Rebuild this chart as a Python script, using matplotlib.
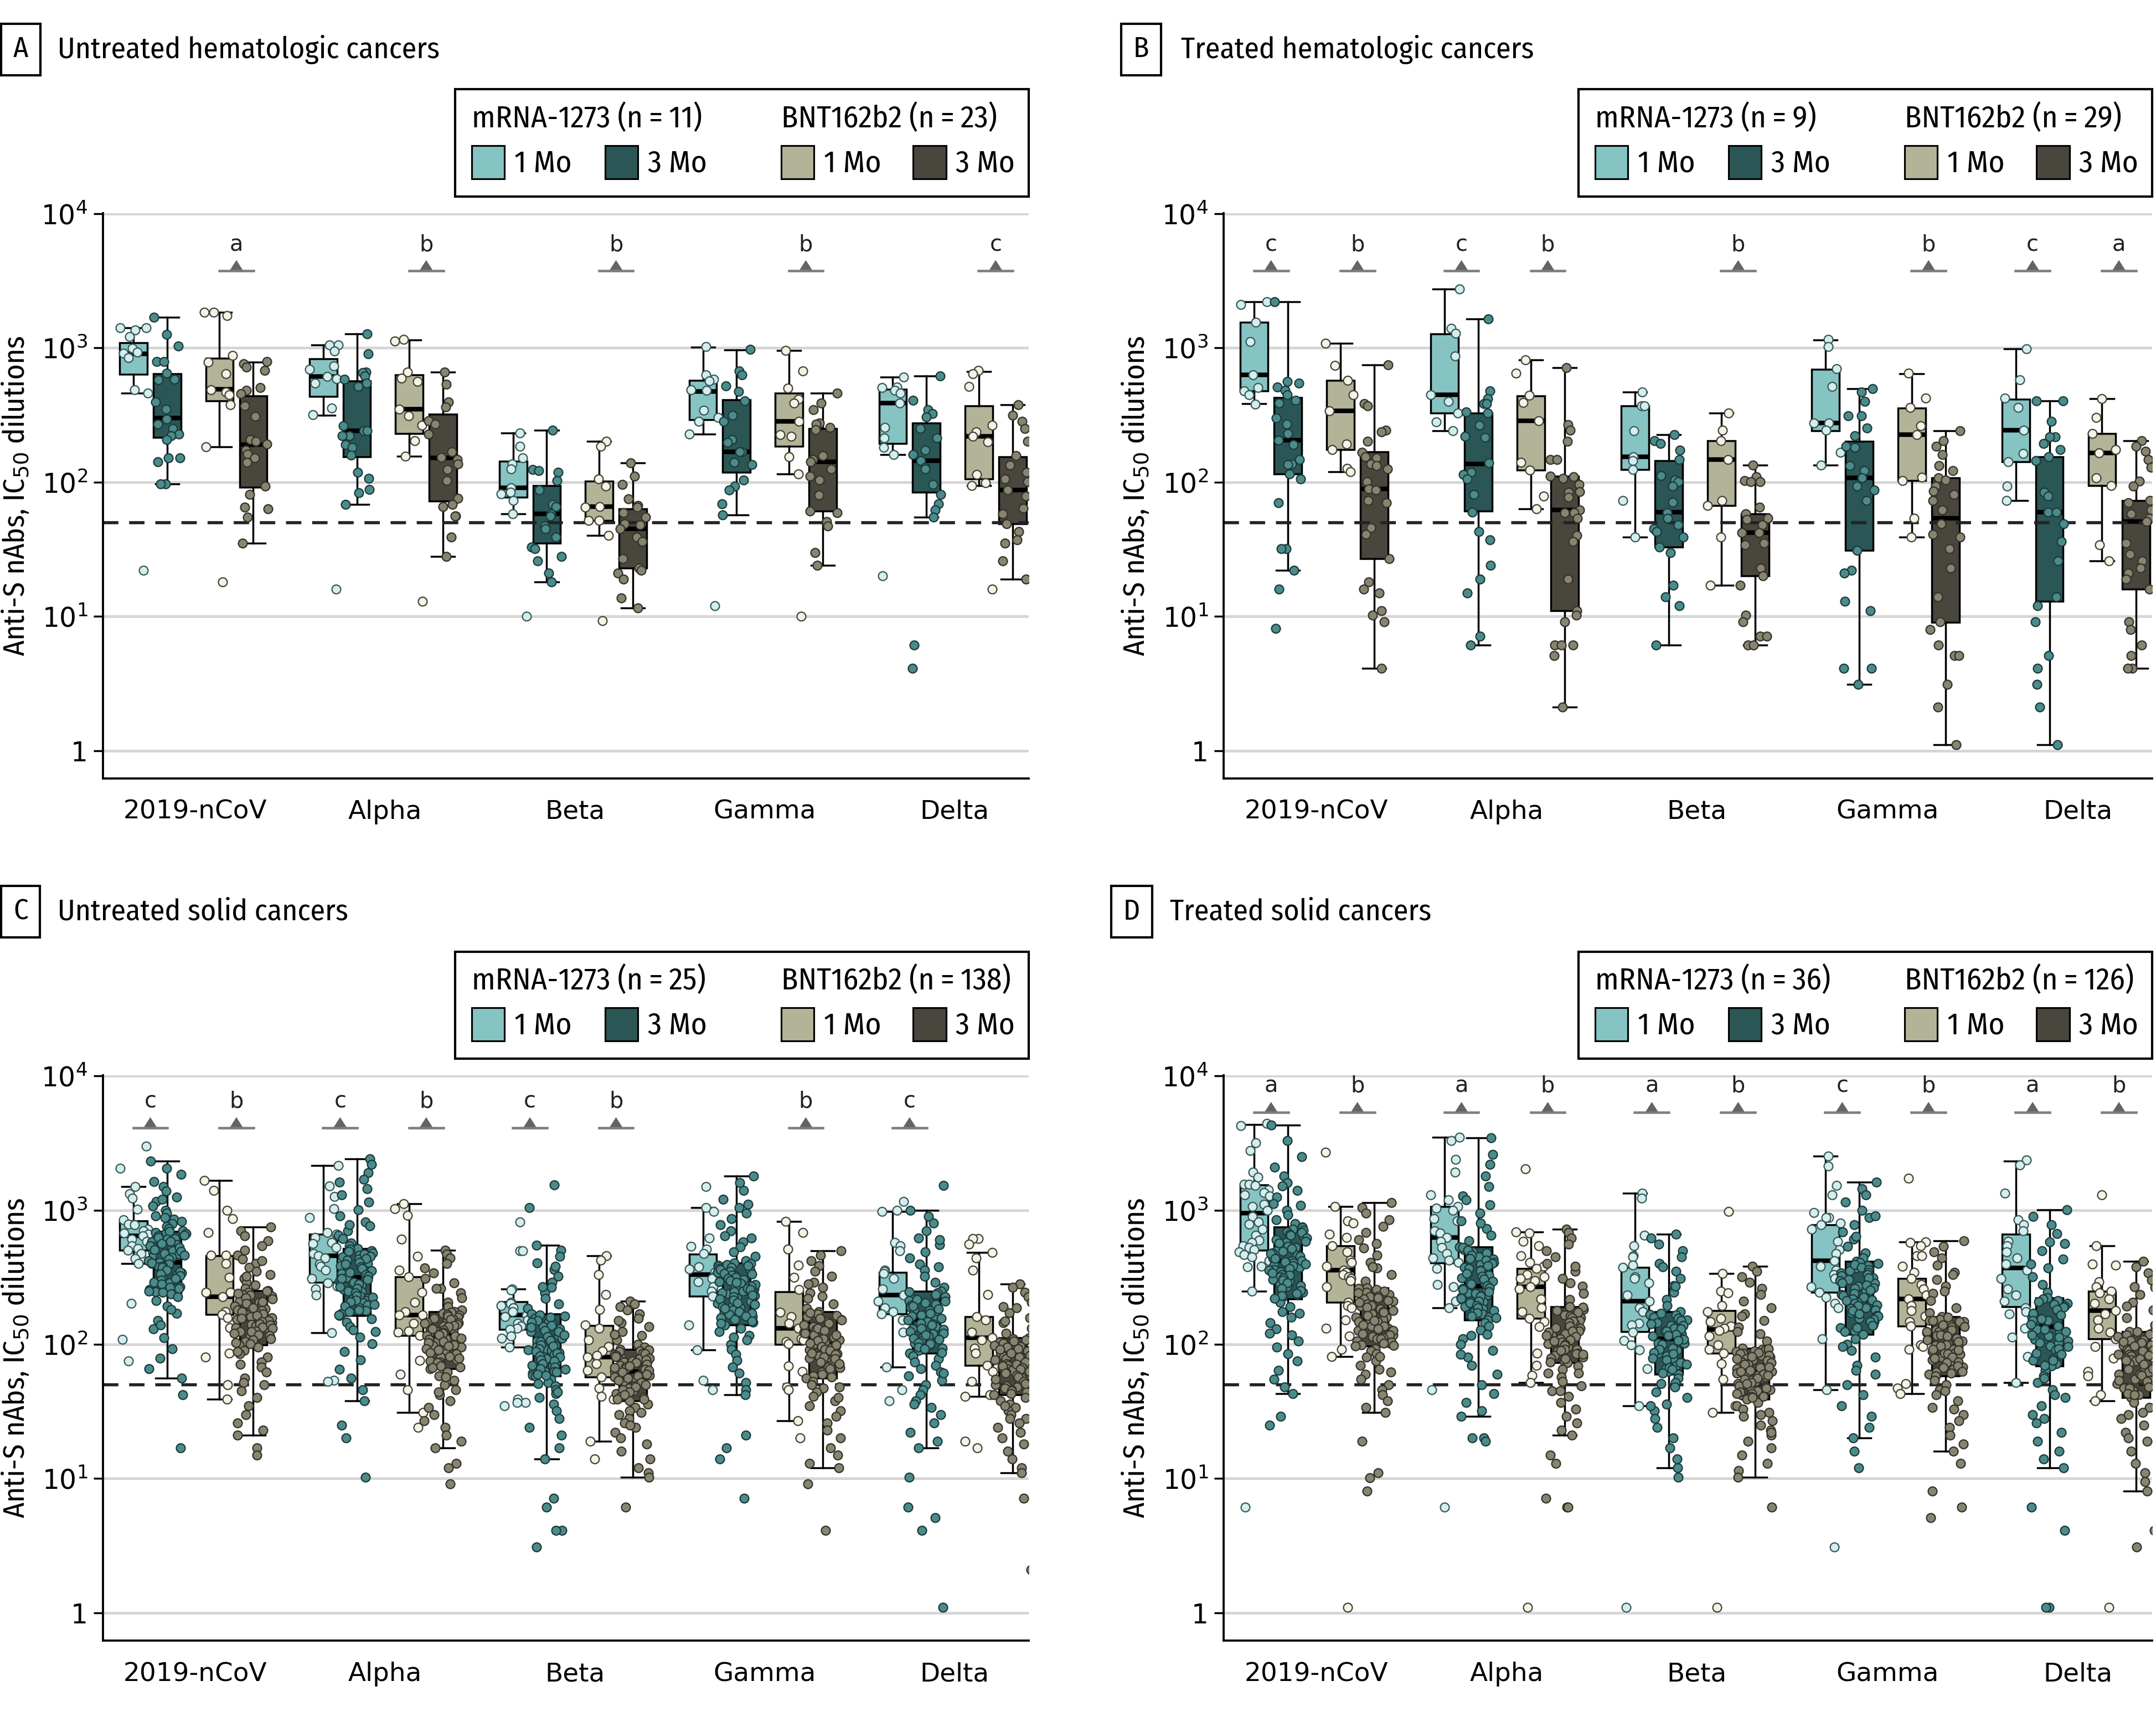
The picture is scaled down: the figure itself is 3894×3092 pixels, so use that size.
import numpy as np
import matplotlib
matplotlib.use("Agg")
import matplotlib.pyplot as plt
from matplotlib import font_manager
from matplotlib.patches import Rectangle, Polygon
from matplotlib.ticker import NullLocator
from matplotlib.transforms import blended_transform_factory

# ---------------------------------------------------------------- data
VARIANTS = ["2019-nCoV", "Alpha", "Beta", "Gamma", "Delta"]
Y_TICKS = [1, 10, 100, 1000, 10000]
Y_TICK_LABELS = ["1", "$10^1$", "$10^2$", "$10^3$", "$10^4$"]
THRESHOLD = 50

# box stats per variant: (whisker low, Q1, median, Q3, whisker high)
# M1 = mRNA-1273 1 Mo, M3 = mRNA-1273 3 Mo, B1 = BNT162b2 1 Mo, B3 = BNT162b2 3 Mo

# A - untreated hematologic
A_N = (11, 23)
A_M1_BOX = [(459, 637, 908, 1094, 1415), (315, 437, 615, 832, 1050), (58, 77, 91, 143, 232),
            (229, 292, 475, 575, 1014), (160, 195, 387, 491, 607)]
A_M3_BOX = [(97, 215, 300, 645, 1690), (68, 154, 242, 568, 1279), (18, 35, 58, 94, 243),
            (57, 119, 168, 411, 966), (55, 84, 145, 275, 620)]
A_B1_BOX = [(184, 405, 491, 837, 1850), (156, 230, 351, 628, 1153), (40, 52, 66, 102, 202),
            (115, 185, 283, 459, 960), (94, 106, 219, 369, 668)]
A_B3_BOX = [(35, 92, 191, 441, 788), (28, 72, 152, 321, 659), (11.5, 23, 45, 63, 139),
            (24, 61, 142, 250, 459), (19, 49, 87, 155, 377)]
A_M1_PTS = [
    [1415, 1415, 1362, 1220, 993, 927, 914, 849, 488, 459, 22],
    [1050, 1050, 953, 735, 696, 615, 592, 545, 357, 317, 16],
    [232, 186, 151, 136, 125, 91, 84, 82, 73, 58, 10],
    [1021, 628, 583, 568, 488, 484, 344, 303, 283, 229, 12],
    [607, 512, 505, 484, 463, 390, 256, 213, 182, 161, 20],
]
A_M3_PTS = [
    [1690, 1262, 1035, 793, 793, 650, 583, 580, 395, 349, 296, 271, 250, 229, 221, 208, 152, 152, 142, 97, 97],
    [1279, 902, 664, 655, 620, 583, 548, 519, 264, 242, 242, 221, 221, 190, 181, 159, 119, 107, 88, 83, 68],
    [243, 124, 122, 118, 103, 87, 68, 66, 58, 56, 47, 45, 39, 33, 32, 28, 26, 21, 18],
    [973, 673, 628, 523, 475, 403, 315, 283, 207, 198, 168, 168, 140, 135, 104, 93, 87, 69, 57],
    [620, 408, 347, 324, 307, 250, 213, 173, 160, 144, 129, 126, 96, 81, 69, 62, 55, 6.1, 4.1],
]
A_B1_PTS = [
    [1850, 1837, 1750, 879, 788, 645, 488, 468, 450, 379, 184, 18],
    [1161, 1122, 664, 595, 563, 351, 311, 266, 204, 156, 13],
    [202, 185, 106, 93, 66, 65, 52, 52, 40, 9.3],
    [960, 673, 501, 417, 390, 283, 227, 219, 154, 115, 10],
    [678, 641, 519, 266, 238, 219, 200, 114, 99, 94, 16],
]
A_B3_PTS = [
    [793, 760, 721, 683, 508, 484, 456, 372, 309, 207, 202, 193, 174, 162, 151, 140, 93, 81, 65, 63, 55, 35],
    [659, 537, 395, 364, 286, 271, 229, 169, 153, 148, 137, 124, 103, 76, 68, 66, 56, 56, 39, 28],
    [139, 111, 96, 75, 67, 65, 59, 55, 49, 48, 45, 39, 36, 27, 23, 22, 21, 19, 13.7, 11.5],
    [459, 390, 347, 275, 271, 256, 246, 157, 148, 142, 126, 111, 104, 80, 61, 59, 51, 47, 30, 24],
    [377, 315, 285, 252, 202, 158, 134, 119, 106, 101, 87, 79, 64, 58, 49, 43, 37, 35, 26, 19],
]
A_MARKS = [("", "a"), ("", "b"), ("", "b"), ("", "b"), ("", "c")]

# B - treated hematologic
B_N = (9, 29)
B_M1_BOX = [(385, 478, 628, 1549, 2208), (242, 328, 447, 1279, 2748), (39, 124, 154, 369, 472),
            (134, 242, 277, 696, 1153), (73, 142, 245, 417, 986)]
B_M3_BOX = [(22, 115, 205, 426, 2208), (6.1, 61, 137, 328, 1648), (6.1, 33, 60, 145, 227),
            (3.1, 31, 108, 201, 498), (1.1, 13, 60, 154, 403)]
B_B1_BOX = [(120, 175, 340, 571, 1080), (63, 123, 286, 441, 814), (17, 67, 147, 204, 328),
            (39, 103, 227, 357, 641), (26, 94, 165, 230, 420)]
B_B3_BOX = [(4.1, 27, 89, 169, 745), (2.1, 11, 62, 111, 711), (6.1, 20, 42, 58, 134),
            (1.1, 9.0, 54, 108, 242), (4.1, 16, 51, 73, 204)]
B_M1_PTS = [
    [2208, 2104, 1549, 1114, 632, 505, 478, 450, 382],
    [2748, 1396, 1288, 873, 447, 400, 328, 281, 242],
    [472, 372, 369, 242, 154, 145, 124, 73, 39],
    [1161, 1021, 701, 515, 277, 277, 245, 167, 134],
    [986, 580, 423, 361, 245, 163, 142, 93, 73],
]
B_M3_PTS = [
    [2208, 563, 545, 512, 484, 450, 408, 387, 300, 271, 230, 205, 190, 148, 137, 135, 115, 106, 70, 32, 32, 22, 16, 8.1],
    [1648, 478, 420, 385, 385, 333, 328, 266, 219, 215, 139, 119, 114, 106, 81, 60, 43, 37, 24, 19, 15, 7.1, 6.1],
    [227, 204, 195, 174, 148, 112, 104, 101, 93, 71, 59, 54, 48, 45, 43, 39, 33, 30, 17, 14, 12, 6.1],
    [498, 469, 400, 313, 313, 254, 221, 185, 182, 133, 122, 108, 93, 87, 73, 31, 22, 21, 13, 11, 4.1, 4.1, 3.1],
    [403, 403, 283, 218, 218, 195, 175, 154, 145, 84, 79, 60, 60, 49, 36, 26, 14, 12, 9.1, 5.1, 4.1, 3.1, 2.1, 1.1],
]
B_B1_PTS = [
    [1080, 740, 571, 447, 340, 193, 175, 127, 120],
    [814, 650, 444, 392, 286, 141, 123, 79, 63],
    [328, 245, 204, 148, 73, 67, 39, 17],
    [646, 423, 359, 264, 227, 109, 103, 54, 39],
    [420, 303, 230, 175, 165, 108, 94, 34, 26],
]
B_B3_PTS = [
    [745, 385, 369, 243, 237, 201, 166, 155, 152, 137, 133, 126, 101, 89, 87, 73, 70, 46, 41, 27, 18, 16, 15, 11, 10.2, 9.1, 4.1],
    [711, 267, 245, 202, 147, 147, 111, 110, 107, 96, 85, 84, 77, 62, 59, 59, 54, 40, 36, 19, 11, 10.2, 9.1, 6.1, 6.1, 6.1, 5.1, 2.1],
    [134, 110, 103, 101, 101, 65, 58, 54, 53, 48, 42, 42, 35, 34, 23, 20, 17, 10.2, 9.1, 7.1, 7.1, 6.1, 6.1],
    [242, 204, 185, 160, 133, 122, 108, 104, 93, 86, 81, 73, 62, 49, 41, 39, 32, 23, 14, 9.1, 8.0, 6.1, 5.1, 5.1, 3.1, 2.1, 1.1],
    [204, 185, 170, 148, 129, 102, 93, 73, 70, 62, 58, 54, 51, 35, 29, 26, 23, 21, 19, 16, 9.1, 8.0, 6.1, 5.1, 4.1, 4.1],
]
B_MARKS = [("c", "b"), ("c", "b"), ("", "b"), ("", "b"), ("c", "a")]

# C - untreated solid
C_N = (25, 138)
C_M1_BOX = [(402, 504, 641, 834, 1493), (122, 290, 456, 661, 2145), (95, 129, 166, 208, 259),
            (91, 228, 330, 470, 1041), (68, 168, 233, 344, 981)]
C_M3_BOX = [(56, 241, 410, 698, 2333), (38, 164, 316, 518, 2421), (14, 58, 92, 169, 546),
            (42, 140, 244, 404, 1795), (17, 86, 154, 250, 1000)]
C_B1_BOX = [(39, 167, 227, 456, 1660), (31, 116, 166, 318, 1117), (19, 57, 80, 138, 456),
            (27, 100, 132, 246, 822), (41, 70, 112, 161, 483)]
C_B3_BOX = [(21, 99, 157, 252, 750), (17, 66, 116, 175, 501), (10.2, 38, 63, 92, 209),
            (12, 56, 100, 175, 497), (11, 42, 68, 112, 282)]
C_M1_PTS = [
    [2993, 2055, 1493, 1324, 1225, 1018, 847, 789, 778, 725, 699, 674, 665, 641, 607, 585, 545, 518, 501, 473, 435, 402, 202, 109, 75],
    [2145, 1514, 1259, 1026, 883, 679, 661, 628, 577, 565, 526, 473, 456, 441, 396, 382, 356, 309, 288, 272, 259, 233, 122, 54, 53],
    [817, 497, 497, 259, 254, 205, 202, 195, 188, 175, 166, 161, 152, 144, 137, 132, 129, 115, 111, 95, 39, 37, 37, 35],
    [1493, 1041, 981, 620, 537, 515, 473, 388, 377, 364, 344, 330, 320, 309, 292, 268, 250, 228, 140, 91, 54, 46],
    [1164, 1000, 981, 577, 545, 497, 356, 349, 339, 309, 259, 233, 209, 188, 175, 169, 152, 123, 68, 46, 38],
]
C_M3_PTS = [
    [2333, 2050, 1850, 1640, 1500, 1390, 1250, 1160, 1080, 1000, 955, 905, 860, 825, 790, 760, 732, 700, 684, 660, 642,
     615, 596, 578, 555, 536, 517, 500, 486, 470, 455, 441, 426, 410, 401, 390, 378, 366, 352, 341, 328, 317, 305, 296,
     286, 276, 265, 256, 246, 238, 226, 211, 192, 171, 151, 131, 112, 93, 79, 66, 56, 42, 17,
     693, 668, 652, 627, 607, 583, 566, 543, 527, 506, 494, 473, 463, 446, 431, 419, 404, 396, 383, 373, 357, 348,
     333, 324, 310, 302, 289, 281, 268, 262, 249, 244, 1205, 878, 182, 139],
    [2421, 2200, 1910, 1700, 1450, 1305, 1150, 1010, 905, 820, 762, 702, 650, 612, 570, 541, 518, 500, 481, 462, 447,
     431, 415, 401, 386, 372, 361, 349, 337, 326, 316, 306, 296, 286, 276, 265, 256, 246, 237, 229, 220, 211, 203, 196,
     187, 178, 171, 164, 155, 146, 136, 124, 113, 101, 88, 77, 65, 56, 46, 38, 25, 20, 10.2,
     511, 493, 472, 451, 437, 424, 407, 396, 378, 367, 353, 344, 330, 322, 309, 303, 289, 283, 268, 261, 250, 243,
     231, 225, 214, 208, 198, 192, 181, 176, 166, 1620, 776, 128],
    [1549, 1041, 546, 502, 451, 403, 361, 322, 291, 266, 241, 221, 201, 186, 169, 162, 156, 148, 142, 136, 131, 125,
     121, 115, 111, 106, 102, 98, 95, 92, 90, 87, 84, 81, 78, 76, 73, 71, 69, 67, 65, 63, 61, 59, 58, 55, 52, 49, 46,
     43, 40, 36, 32, 28, 24, 21, 17, 14, 7.1, 6.1, 4.1, 4.1, 3.1,
     165, 159, 150, 146, 138, 134, 127, 124, 117, 114, 107, 105, 99, 97, 93, 91, 88, 86, 82, 80, 77, 75, 72, 70,
     68, 66, 63, 62, 60, 59, 383, 268, 51, 44],
    [1795, 1600, 1405, 1210, 1050, 952, 861, 782, 703, 641, 582, 531, 491, 452, 421, 404, 392, 381, 368, 357, 345,
     334, 324, 313, 303, 294, 284, 275, 267, 258, 250, 244, 237, 230, 223, 216, 209, 202, 195, 188, 181, 174, 167,
     161, 153, 146, 140, 132, 124, 116, 108, 100, 92, 84, 76, 68, 61, 52, 46, 42, 21, 17, 14, 7.1,
     399, 385, 376, 361, 351, 338, 329, 317, 309, 297, 291, 279, 272, 261, 255, 246, 241, 232, 227, 218, 213, 204,
     199, 190, 185, 176, 171, 163, 158, 149, 144, 1108, 617, 113],
    [1524, 1000, 902, 801, 703, 621, 552, 491, 441, 396, 356, 321, 291, 266, 250, 241, 231, 221, 212, 204, 196, 189,
     182, 175, 168, 162, 154, 148, 142, 136, 131, 125, 120, 115, 111, 106, 102, 98, 94, 90, 86, 82, 78, 74, 70, 66,
     62, 58, 54, 50, 46, 42, 38, 34, 30, 26, 22, 19, 17, 10.2, 6.1, 5.1, 4.1, 1.1,
     247, 235, 227, 215, 209, 199, 193, 184, 179, 170, 166, 157, 152, 144, 140, 132, 129, 121, 118, 111, 109, 103,
     101, 95, 93, 87, 604, 377, 61, 36],
]
C_B1_PTS = [
    [1660, 1409, 995, 864, 684, 463, 463, 402, 316, 244, 244, 227, 175, 167, 158, 133, 86, 80, 50, 39],
    [1117, 1026, 914, 607, 453, 357, 318, 244, 205, 175, 166, 166, 144, 126, 123, 116, 76, 60, 46, 31, 24],
    [456, 425, 332, 236, 182, 140, 132, 108, 96, 89, 83, 80, 72, 64, 57, 47, 41, 39, 19, 14],
    [822, 684, 512, 388, 316, 257, 173, 161, 144, 132, 110, 108, 105, 101, 69, 63, 48, 46, 27, 20],
    [615, 615, 557, 483, 441, 357, 236, 161, 152, 123, 112, 108, 94, 86, 70, 63, 53, 42, 41, 19, 17],
]
C_B3_PTS = [
    [750, 702, 641, 590, 542, 501, 462, 431, 402, 376, 351, 331, 311, 291, 276, 262, 252, 244, 236, 228, 221, 212,
     205, 198, 191, 184, 178, 172, 166, 161, 157, 153, 149, 145, 141, 137, 133, 129, 125, 121, 117, 113, 109, 105,
     102, 99, 95, 90, 85, 80, 74, 68, 62, 56, 50, 45, 40, 35, 30, 26, 23, 21, 17, 15,
     249, 239, 233, 223, 217, 207, 202, 193, 188, 180, 176, 168, 164, 158, 156, 150, 148, 142, 140, 134, 132, 126,
     124, 118, 116, 110, 108, 103, 101, 418, 322, 88, 71, 52],
    [501, 471, 441, 402, 371, 341, 311, 286, 262, 241, 222, 205, 191, 181, 175, 170, 165, 160, 155, 150, 145, 141,
     137, 133, 129, 125, 122, 119, 116, 113, 110, 107, 104, 101, 98, 95, 92, 89, 86, 83, 80, 77, 74, 71, 68, 66, 62,
     58, 54, 50, 46, 42, 38, 34, 30, 27, 24, 21, 19, 17, 13, 12, 9.1,
     173, 167, 163, 156, 153, 146, 144, 138, 136, 130, 128, 123, 121, 117, 115, 111, 109, 105, 103, 99, 97, 93, 91,
     87, 85, 81, 79, 75, 73, 69, 67, 262, 57, 44],
    [209, 200, 190, 180, 168, 156, 145, 135, 125, 116, 108, 100, 95, 92, 89, 86, 84, 82, 80, 78, 76, 74, 72, 70, 68,
     66, 65, 63, 61, 59, 57, 55, 53, 51, 49, 47, 45, 43, 41, 39, 38, 36, 34, 32, 30, 28, 26, 24, 22, 20, 18, 16, 14,
     12, 11, 10.2, 6.1,
     91, 88, 85, 83, 81, 79, 77, 75, 73, 71, 69, 67, 65, 64, 62, 60, 58, 56, 54, 52, 50, 48, 46, 44, 42, 40, 39,
     151, 119, 31, 25],
    [497, 461, 421, 386, 351, 321, 291, 266, 241, 221, 201, 186, 175, 168, 161, 154, 147, 141, 135, 129, 123, 118,
     113, 108, 104, 100, 97, 94, 91, 88, 85, 82, 79, 76, 73, 70, 67, 64, 61, 58, 56, 53, 50, 47, 44, 41, 38, 35, 32,
     29, 26, 23, 20, 17, 15, 13, 12, 9.1, 4.1,
     172, 164, 157, 152, 144, 139, 132, 127, 121, 117, 110, 107, 102, 99, 96, 92, 90, 86, 84, 80, 78, 74, 72, 68,
     66, 62, 60, 57, 281, 229, 48, 40],
    [282, 265, 245, 226, 206, 188, 172, 158, 145, 132, 121, 112, 108, 104, 100, 96, 93, 90, 87, 84, 81, 78, 75, 72,
     70, 68, 66, 64, 62, 60, 58, 56, 54, 52, 50, 48, 46, 44, 42, 40, 38, 36, 34, 32, 30, 28, 26, 24, 22, 20, 18, 16,
     14, 12, 11, 7.1, 2.1,
     110, 106, 102, 98, 95, 92, 89, 86, 83, 80, 77, 74, 71, 69, 67, 65, 63, 61, 59, 57, 55, 53, 51, 49, 47, 45, 43,
     191, 149, 35, 28],
]
C_MARKS = [("c", "b"), ("c", "b"), ("c", "b"), ("", "b"), ("c", "")]

# D - treated solid
D_N = (36, 126)
D_M1_BOX = [(248, 501, 949, 1549, 4355), (187, 404, 624, 1070, 3501), (35, 125, 209, 374, 1334),
            (46, 244, 419, 778, 2523), (52, 191, 372, 661, 2333)]
D_M3_BOX = [(43, 217, 419, 750, 4325), (29, 152, 272, 533, 3451), (12, 60, 110, 175, 665),
            (20, 119, 214, 416, 1615), (12, 69, 136, 223, 1011)]
D_B1_BOX = [(81, 206, 356, 545, 1062), (52, 157, 268, 369, 689), (31, 86, 129, 179, 337),
            (43, 137, 217, 309, 581), (38, 110, 178, 248, 545)]
D_B3_BOX = [(31, 97, 152, 264, 1140), (21, 73, 113, 191, 725), (10.2, 39, 63, 94, 382),
            (16, 58, 96, 161, 593), (8.1, 40, 75, 125, 416)]
D_M1_PTS = [
    [4416, 4265, 3167, 2788, 1928, 1758, 1560, 1560, 1535, 1421, 1353, 1296, 1276, 1109, 1070, 995, 895, 817, 789,
     725, 652, 598, 577, 545, 526, 508, 490, 466, 447, 419, 382, 379, 248, 6.1],
    [3501, 3311, 2388, 1928, 1296, 1189, 1070, 1033, 995, 864, 834, 699, 674, 624, 585, 526, 473, 441, 425, 410, 369,
     278, 268, 209, 187, 46, 6.1],
    [1334, 1225, 652, 545, 456, 447, 388, 374, 320, 309, 288, 233, 209, 188, 175, 144, 140, 123, 107, 99, 91, 66, 35, 1.1],
    [2523, 2128, 1535, 1305, 961, 883, 883, 805, 778, 725, 585, 508, 473, 419, 382, 356, 332, 309, 268, 244, 224, 202,
     188, 110, 46, 3.1],
    [2366, 2173, 1334, 847, 778, 699, 585, 545, 490, 441, 396, 356, 309, 259, 233, 209, 188, 175, 169, 132, 113, 81, 52],
]
D_M3_PTS = [
    [4325, 3300, 2500, 2100, 1800, 1600, 1400, 1250, 1120, 1000, 920, 850, 790, 750, 720, 690, 660, 630, 600, 575,
     550, 525, 500, 480, 460, 440, 419, 405, 390, 375, 360, 346, 332, 318, 305, 292, 280, 268, 256, 245, 235, 226, 217,
     205, 190, 175, 160, 145, 130, 118, 106, 95, 85, 75, 64, 55, 48, 43, 29, 25,
     741, 708, 683, 647, 622, 588, 567, 538, 517, 493, 477, 453, 438, 421, 412, 397, 386, 368, 357, 341, 329, 312,
     301, 286, 275, 261, 251, 239, 231, 220, 1510, 1090, 171, 121],
    [3451, 2600, 2200, 1800, 1500, 1280, 1100, 950, 830, 730, 650, 590, 533, 510, 490, 470, 450, 430, 410, 392, 375,
     358, 342, 327, 312, 298, 285, 272, 262, 252, 243, 234, 225, 216, 207, 199, 191, 183, 175, 168, 160, 152, 145, 137,
     128, 119, 110, 100, 90, 80, 70, 60, 50, 43, 37, 32, 29, 20, 20, 19,
     526, 501, 478, 462, 438, 422, 401, 387, 366, 353, 336, 323, 307, 296, 281, 273, 264, 257, 246, 239, 228, 221,
     210, 204, 194, 188, 178, 172, 163, 158, 1190, 805, 116, 84],
    [665, 620, 560, 500, 450, 400, 350, 310, 275, 245, 215, 195, 175, 167, 159, 152, 145, 138, 132, 126, 120, 115, 110,
     106, 102, 98, 94, 90, 86, 82, 78, 74, 70, 66, 63, 60, 56, 52, 48, 44, 40, 36, 32, 28, 24, 20, 17, 14, 12, 10.2,
     171, 165, 156, 151, 142, 138, 130, 126, 119, 116, 109, 107, 102, 100, 94, 92, 87, 85, 79, 77, 73, 71, 67, 65,
     61, 378, 271, 51, 35],
    [1615, 1450, 1300, 1150, 1000, 880, 780, 690, 610, 540, 480, 440, 416, 400, 385, 370, 355, 340, 326, 312, 298, 285,
     272, 260, 248, 236, 225, 214, 205, 196, 188, 180, 172, 164, 156, 148, 140, 133, 126, 119, 110, 100, 90, 80, 70,
     60, 50, 42, 35, 29, 24, 20, 16, 12,
     409, 393, 374, 362, 344, 331, 314, 304, 288, 277, 263, 253, 240, 231, 219, 212, 202, 195, 185, 179, 169, 163,
     153, 147, 138, 133, 124, 903, 638, 96, 64],
    [1011, 900, 780, 670, 580, 500, 430, 370, 320, 280, 245, 223, 212, 202, 193, 184, 175, 167, 159, 151, 143, 136,
     129, 122, 115, 109, 103, 97, 91, 86, 81, 76, 72, 69, 64, 58, 52, 46, 40, 35, 30, 26, 22, 19, 16, 14, 12, 6.1, 4.1,
     1.1, 1.1,
     219, 208, 199, 189, 182, 171, 165, 155, 150, 141, 137, 129, 125, 117, 113, 106, 103, 96, 93, 86, 84, 78, 76,
     70, 562, 398, 56, 42, 28],
]
D_B1_PTS = [
    [2710, 1062, 834, 805, 661, 628, 545, 490, 425, 410, 382, 356, 344, 332, 320, 309, 298, 268, 206, 195, 188, 152,
     132, 115, 92, 81, 1.1],
    [2042, 689, 674, 585, 545, 456, 410, 382, 369, 332, 320, 309, 298, 268, 259, 217, 188, 175, 157, 147, 135, 86, 70,
     59, 52, 1.1],
    [982, 337, 250, 241, 195, 175, 157, 147, 137, 132, 127, 115, 99, 92, 86, 72, 55, 35, 31, 1.1],
    [1722, 581, 573, 545, 456, 456, 382, 344, 309, 278, 259, 233, 217, 195, 178, 163, 147, 137, 99, 96, 92, 51, 47, 43],
    [1305, 545, 396, 388, 292, 268, 250, 241, 217, 202, 178, 169, 152, 132, 123, 110, 96, 79, 63, 58, 42, 38, 1.1],
]
D_B3_PTS = [
    [1140, 1050, 950, 850, 760, 680, 600, 520, 460, 410, 370, 330, 295, 264, 255, 245, 236, 227, 218, 209, 200, 192,
     184, 176, 168, 160, 152, 147, 142, 137, 132, 127, 122, 118, 114, 110, 106, 102, 99, 97, 93, 89, 85, 80, 75, 70,
     65, 60, 55, 50, 46, 42, 38, 34, 31, 19, 11, 10.1, 8.1,
     261, 248, 241, 229, 222, 211, 205, 195, 189, 179, 173, 164, 159, 151, 147, 140, 137, 130, 127, 120, 118, 112,
     110, 104, 102, 98, 563, 377, 81, 62],
    [725, 680, 620, 560, 500, 450, 400, 350, 310, 270, 240, 215, 191, 182, 174, 166, 158, 151, 144, 138, 132, 126, 120,
     116, 113, 110, 107, 104, 101, 98, 95, 92, 89, 86, 83, 80, 77, 75, 73, 69, 65, 61, 57, 53, 49, 45, 41, 37, 33, 29,
     26, 23, 21, 15, 13, 7.1, 6.1, 6.1,
     189, 179, 173, 163, 158, 149, 145, 137, 133, 126, 123, 116, 114, 108, 106, 100, 98, 92, 90, 85, 84, 79, 78, 74,
     383, 287, 61, 45],
    [382, 350, 320, 290, 260, 235, 210, 188, 168, 150, 134, 120, 106, 94, 92, 90, 88, 86, 85, 83, 80, 78, 77, 74, 72,
     71, 68, 66, 64, 63, 61, 59, 58, 57, 55, 54, 53, 51, 50, 49, 47, 46, 45, 43, 42, 41, 39, 37, 35, 33, 31, 29, 27,
     25, 23, 21, 19, 17, 15, 13, 11.5, 10.2, 6.1,
     93, 89, 87, 83, 81, 78, 76, 73, 71, 68, 67, 64, 63, 60, 59, 56, 55, 52, 51, 48, 47, 44, 43, 41, 40, 162, 124,
     30, 22],
    [593, 540, 490, 440, 390, 345, 305, 270, 240, 212, 188, 172, 161, 154, 150, 147, 140, 134, 128, 125, 122, 116, 111,
     106, 101, 98, 96, 92, 88, 86, 84, 80, 77, 75, 74, 71, 68, 66, 65, 62, 60, 58, 54, 50, 46, 42, 38, 34, 30, 27, 24,
     21, 18, 16, 13, 8.1, 6.1, 5.1,
     159, 151, 147, 139, 135, 128, 124, 118, 115, 108, 105, 99, 97, 92, 91, 86, 85, 80, 79, 74, 73, 69, 67, 63,
     61, 332, 248, 45, 33],
    [416, 380, 340, 300, 265, 235, 205, 180, 158, 140, 125, 122, 119, 113, 110, 108, 103, 100, 98, 94, 92, 90, 86, 84,
     82, 78, 77, 75, 72, 70, 69, 66, 63, 62, 60, 57, 55, 54, 51, 48, 47, 45, 42, 40, 37, 34, 31, 28, 25, 22, 19, 16, 13,
     11, 9.5, 8.1, 4.1, 3.1,
     124, 117, 114, 107, 105, 99, 97, 91, 89, 84, 83, 78, 76, 72, 71, 66, 65, 60, 59, 54, 53, 48, 47, 43, 42,
     268, 192, 30, 20],
]
D_MARKS = [("a", "b"), ("a", "b"), ("a", "b"), ("c", "b"), ("a", "b")]

# ---------------------------------------------------------------- style
_names = {f.name for f in font_manager.fontManager.ttflist}
NARROW = "Liberation Sans"
for _cand in ["Fira Sans Condensed", "PT Sans Narrow", "Roboto Condensed", "Archivo Narrow",
              "Asap Condensed", "IBM Plex Sans Condensed", "Encode Sans Condensed",
              "Sofia Sans Condensed", "Liberation Sans Narrow", "Open Sans Condensed"]:
    if _cand in _names:
        NARROW = _cand
        break
NARROW_FAMILY = [NARROW, "DejaVu Sans"]   # DejaVu supplies the thin space

BOX_COLORS = ["#86c4c3", "#2b5656", "#b3b497", "#49463e"]
PT_COLORS = ["#d4eeee", "#4b8b8b", "#f4f3e6", "#878570"]
PT_EDGES = ["#3b5959", "#1d3a3a", "#45443a", "#34332b"]
OFFSETS = [-0.325, -0.148, 0.128, 0.306]
BOX_W = 0.145

W_PX, H_PX = 1568.0, 1245.0   # layout measured on the reduced reference


def fx(px):
    return px / W_PX


def fy(py):
    return 1 - py / H_PX


def spread(n, seed):
    # deterministic scatter of n offsets in [-0.5, 0.5) for the strip jitter
    k = np.arange(n) + 1.0 + seed * 17.0
    return (np.sin(k * 12.9898 + seed * 78.233) * 43758.5453) % 1.0 - 0.5


def draw_panel(ax, boxes, points, marks, mark_y):
    x = np.arange(len(VARIANTS))
    for g in range(4):
        pos = x + OFFSETS[g]
        stats = [dict(whislo=b[0], q1=b[1], med=b[2], q3=b[3], whishi=b[4], fliers=[]) for b in boxes[g]]
        ax.bxp(stats, positions=pos, widths=BOX_W, patch_artist=True, showfliers=False,
               manage_ticks=False, zorder=2, capwidths=BOX_W * 0.85,
               boxprops=dict(facecolor=BOX_COLORS[g], edgecolor="black", linewidth=1.0),
               medianprops=dict(color="black", linewidth=2.4, solid_capstyle="butt"),
               whiskerprops=dict(color="black", linewidth=1.0),
               capprops=dict(color="black", linewidth=1.0))
        for v in range(len(VARIANTS)):
            vals = np.asarray(points[g][v], dtype=float)
            width = 0.16 if len(vals) < 40 else 0.2
            jit = spread(len(vals), g * 5 + v) * width
            ax.scatter(pos[v] + jit, vals, s=21, c=PT_COLORS[g], edgecolors=PT_EDGES[g],
                       linewidths=0.65, zorder=3)

    # significance marks
    tr = blended_transform_factory(ax.transData, ax.transAxes)
    ly, base, apex = mark_y
    centers = [(OFFSETS[0] + OFFSETS[1]) / 2, (OFFSETS[2] + OFFSETS[3]) / 2]
    for v, pair in enumerate(marks):
        for side, letter in enumerate(pair):
            if not letter:
                continue
            cx = v + centers[side]
            ax.text(cx, ly, letter, transform=tr, ha="center", va="center", fontsize=11.5, color="#222222")
            ax.add_patch(Polygon([[cx - 0.036, base], [cx + 0.036, base], [cx, apex]], closed=True,
                                 transform=tr, fc="#646464", ec="none", clip_on=False, zorder=4))
            ax.plot([cx - 0.09, cx + 0.09], [base, base], transform=tr, color="#7d7d7d", lw=1.3,
                    clip_on=False, zorder=4)


def style_axes(ax):
    ax.set_yscale("log")
    ax.set_ylim(10 ** -0.207, 10 ** 4.005)
    ax.set_xlim(-0.485, 4.39)
    ax.set_yticks(Y_TICKS)
    ax.set_yticklabels(Y_TICK_LABELS)
    ax.yaxis.set_minor_locator(NullLocator())
    ax.set_xticks(np.arange(len(VARIANTS)))
    ax.set_xticklabels(VARIANTS)
    ax.tick_params(axis="x", length=0, pad=11, labelsize=13.5)
    ax.tick_params(axis="y", length=5, width=1.0, pad=3, labelsize=14)
    ax.grid(axis="y", color="#d6d6d6", lw=1.4)
    ax.set_axisbelow(True)
    for s in ("top", "right"):
        ax.spines[s].set_visible(False)
    for s in ("left", "bottom"):
        ax.spines[s].set_linewidth(1.1)
    ax.axhline(THRESHOLD, color="#222222", lw=1.6, ls=(0, (5, 3.5)), zorder=2.5)
    ax.set_ylabel("Anti-S nAbs, IC$_{50}$ dilutions", fontsize=15.5, family=NARROW)
    ax.yaxis.set_label_coords(-0.078, 0.5)


def draw_legend(fig, ax, n_m, n_b):
    bb = ax.get_position()
    w, h = fx(417), 78 / H_PX
    lax = fig.add_axes([bb.x1 - w, bb.y1 + 12 / H_PX, w, h])
    lax.set_xlim(0, 417)
    lax.set_ylim(78, 0)
    lax.axis("off")
    lax.add_patch(Rectangle((0, 0), 417, 78, fill=False, ec="black", lw=1.2, clip_on=False))
    tk = dict(fontsize=16, family=NARROW_FAMILY, va="center", ha="left")
    lax.text(12, 21, f"mRNA-1273 (n\u2009=\u2009{n_m})", **tk)
    lax.text(237, 21, f"BNT162b2 (n\u2009=\u2009{n_b})", **tk)
    for g, (sx, lab) in enumerate(zip([12, 109, 237, 333], ["1 Mo", "3 Mo", "1 Mo", "3 Mo"])):
        lax.add_patch(Rectangle((sx, 41), 24, 24, fc=BOX_COLORS[g], ec="black", lw=0.9))
        lax.text(sx + 31, 54, lab, **tk)


fig = plt.figure(figsize=(15.576, 12.368), dpi=250)

PANELS = [
    ("A", "Untreated hematologic cancers", A_N, [A_M1_BOX, A_M3_BOX, A_B1_BOX, A_B3_BOX],
     [A_M1_PTS, A_M3_PTS, A_B1_PTS, A_B3_PTS], A_MARKS),
    ("B", "Treated hematologic cancers", B_N, [B_M1_BOX, B_M3_BOX, B_B1_BOX, B_B3_BOX],
     [B_M1_PTS, B_M3_PTS, B_B1_PTS, B_B3_PTS], B_MARKS),
    ("C", "Untreated solid cancers", C_N, [C_M1_BOX, C_M3_BOX, C_B1_BOX, C_B3_BOX],
     [C_M1_PTS, C_M3_PTS, C_B1_PTS, C_B3_PTS], C_MARKS),
    ("D", "Treated solid cancers", D_N, [D_M1_BOX, D_M3_BOX, D_B1_BOX, D_B3_BOX],
     [D_M1_PTS, D_M3_PTS, D_B1_PTS, D_B3_PTS], D_MARKS),
]
# axes rectangles (left, right, top, bottom) in reference pixels, label box x, title x, header y
LAYOUT = [
    (75, 748, 155, 566, 15, 42, 36, (0.944, 0.898, 0.917)),
    (890, 1565, 155, 566, 830, 859, 36, (0.944, 0.898, 0.917)),
    (75, 748, 782, 1193, 15, 42, 663, (0.954, 0.907, 0.926)),
    (890, 1565, 782, 1193, 823, 851, 663, (0.981, 0.934, 0.953)),
]

for (letter, title, ns, boxes, pts, marks), (l, r, t, b, lbx, tx, hy, mark_y) in zip(PANELS, LAYOUT):
    ax = fig.add_axes([fx(l), fy(b), fx(r - l), (b - t) / H_PX])
    style_axes(ax)
    draw_panel(ax, boxes, pts, marks, mark_y)
    draw_legend(fig, ax, *ns)
    fig.text(fx(lbx), fy(hy), letter, ha="center", va="center", fontsize=15, family=NARROW,
             bbox=dict(boxstyle="square,pad=0.42", fc="white", ec="black", lw=1.2))
    fig.text(fx(tx), fy(hy), title, ha="left", va="center", fontsize=15.5, family=NARROW)

fig.savefig("out.png", dpi=250)
